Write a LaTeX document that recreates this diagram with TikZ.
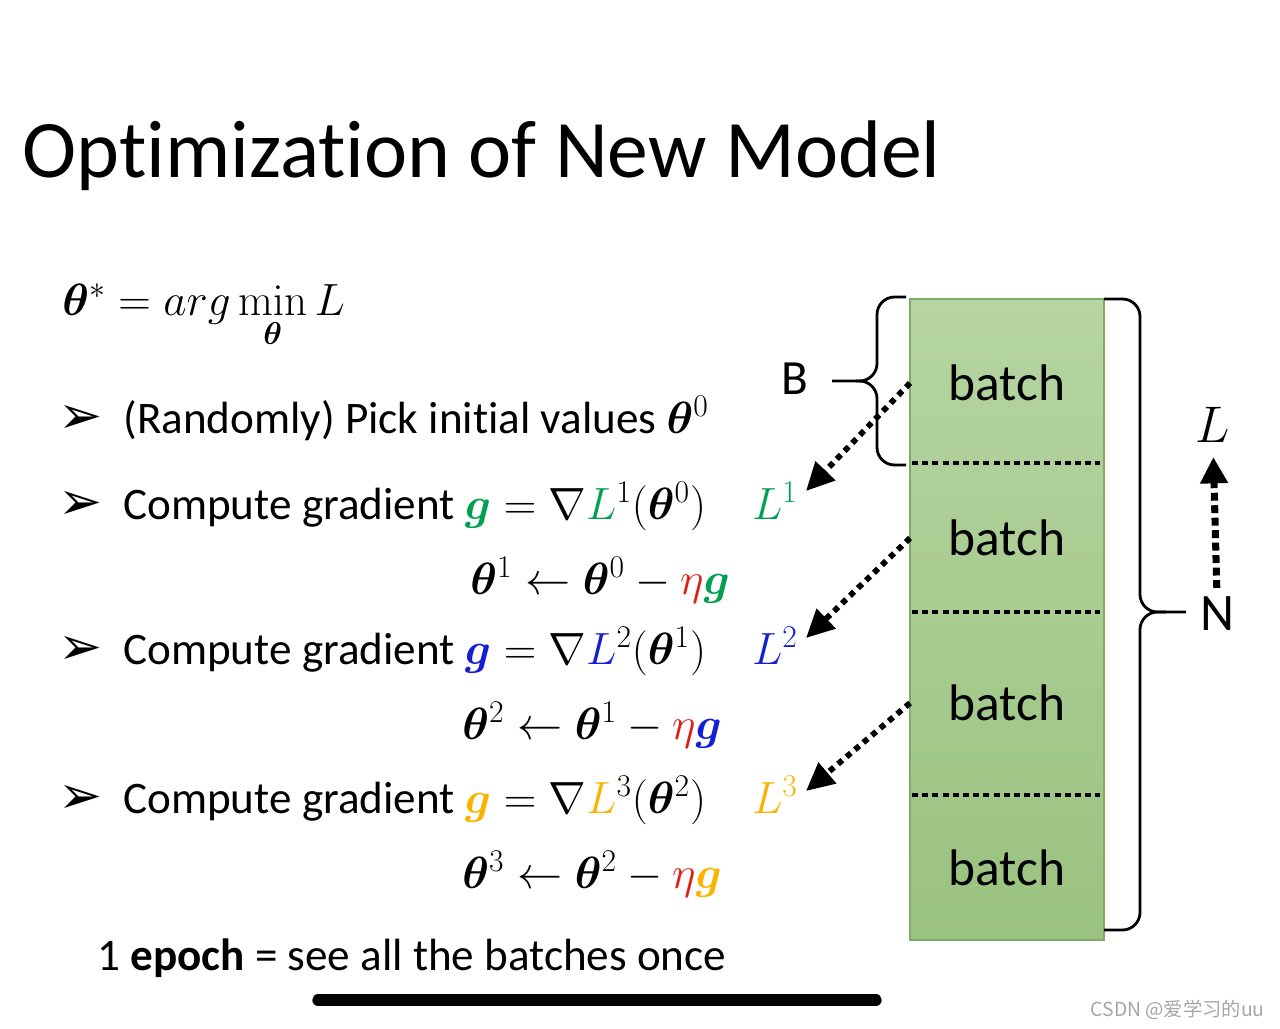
\RequirePackage{fix-cm}
\documentclass[tikz,border=0pt]{standalone}
\usepackage{amsmath,amssymb}
\usepackage{bm}
\usepackage[no-math]{fontspec}
\setmainfont{Carlito}[Ligatures={NoCommon,NoContextual,NoRare},RawFeature={-calt;-clig}]
\newfontfamily\dingfont{DejaVu Sans}
\newfontfamily\cjkfont{Noto Sans CJK SC}
\usepackage{tikz}
\usetikzlibrary{arrows.meta}

\definecolor{lossgreen}{RGB}{0,160,80}
\definecolor{lossblue}{RGB}{20,30,210}
\definecolor{lossgold}{RGB}{250,180,0}
\definecolor{etared}{RGB}{225,30,20}
\definecolor{batchtop}{RGB}{182,213,162}
\definecolor{batchbot}{RGB}{154,194,128}
\definecolor{batchedge}{RGB}{125,172,100}

\newcommand{\bth}{\bm{\theta}}
\newcommand{\bul}{\makebox[1.3cm][l]{\dingfont\fontsize{30}{30}\selectfont ➢}}
\newcommand{\nolig}{\kern0pt}

\begin{document}
\begin{tikzpicture}[x=0.02cm,y=-0.02cm,
  body/.style={anchor=base west,inner sep=0pt,font=\fontsize{25.7}{31}\selectfont},
  batchlabel/.style={inner sep=0pt,font=\fontsize{29.3}{34}\selectfont},
  sep/.style={line width=2pt,dash pattern=on 3.4pt off 2.4pt},
  feed/.style={line width=3.3pt,dash pattern=on 3.3pt off 3pt,-{Triangle[length=16pt,width=15pt]}},
  brace/.style={line width=1.6pt,rounded corners=10pt}]
  \useasboundingbox (0,0) rectangle (1280,1028);

  % title
  \node[anchor=base west,inner sep=0pt,font=\fontsize{46.5}{50}\selectfont] (title) at (22,177) {Opt\nolig imizat\nolig ion of New Model};

  % steps on the left
  \node[body] (objective) at (62,315) {$\bth^{*} = arg\min\limits_{\bth} L$};
  \node[body] (pick) at (58,433) {\bul(Randomly) Pick init\nolig ial values $\bth^{0}$};
  \node[body] (grad1) at (58,519) {\bul Compute gradient $\color{lossgreen}\bm{g}\color{black} = \nabla{\color{lossgreen}L}^{1}(\bth^{0})$};
  \node[body] (upd1) at (470,594) {$\bth^{1} \leftarrow \bth^{0} - {\color{etared}\eta}{\color{lossgreen}\bm{g}}$};
  \node[body] (grad2) at (58,664) {\bul Compute gradient $\color{lossblue}\bm{g}\color{black} = \nabla{\color{lossblue}L}^{2}(\bth^{1})$};
  \node[body] (upd2) at (462,739) {$\bth^{2} \leftarrow \bth^{1} - {\color{etared}\eta}{\color{lossblue}\bm{g}}$};
  \node[body] (grad3) at (58,813) {\bul Compute gradient $\color{lossgold}\bm{g}\color{black} = \nabla{\color{lossgold}L}^{3}(\bth^{2})$};
  \node[body] (upd3) at (462,888) {$\bth^{3} \leftarrow \bth^{2} - {\color{etared}\eta}{\color{lossgold}\bm{g}}$};
  \node[body] (epoch) at (97,970) {1 \textbf{epoch} = see all the batches once};

  % losses per batch
  \node[body,text=lossgreen] (loss1) at (752,519) {$L^{1}$};
  \node[body,text=lossblue] (loss2) at (752,664) {$L^{2}$};
  \node[body,text=lossgold] (loss3) at (752,813) {$L^{3}$};

  % training data column
  \shade[top color=batchtop,bottom color=batchbot,draw=batchedge,line width=0.6pt] (910,299) rectangle (1104,940);
  \coordinate (colwest) at (910,0);
  \foreach \y in {463,612,795}
    \draw[sep] (912,\y) -- (1100,\y);
  \node[batchlabel] (batch1) at (1007,383) {batch};
  \node[batchlabel] (batch2) at (1007,538) {batch};
  \node[batchlabel] (batch3) at (1007,703) {batch};
  \node[batchlabel] (batch4) at (1007,868) {batch};

  \coordinate (tip1) at (806,491);
  \coordinate (tip2) at (806,638);
  \coordinate (tip3) at (806,791);
  \draw[feed] (colwest |- batch1) -- (tip1);
  \draw[feed] (colwest |- batch2) -- (tip2);
  \draw[feed] (colwest |- batch3) -- (tip3);

  % braces
  \node[batchlabel,font=\fontsize{28}{32}\selectfont] (labelB) at (795,379) {B};
  \draw[brace] (906,297) -- (877,297) -- (877,381) -- (832,381);
  \draw[brace] (906,465) -- (877,465) -- (877,381) -- (856,381);
  \node[batchlabel,font=\fontsize{30}{34}\selectfont] (labelN) at (1217,614) {N};
  \draw[brace] (1104,299) -- (1140,299) -- (1140,612) -- (1186,612);
  \draw[brace] (1104,930) -- (1140,930) -- (1140,612) -- (1166,612);

  \node[batchlabel] (labelL) at (1213,425) {$L$};
  \draw[line width=4pt,dash pattern=on 4.5pt off 2.6pt,-{Triangle[length=15pt,width=15pt]},shorten <=5pt,shorten >=8pt] (labelN.north) -- (labelL.south);

  % screen bar and mark
  \draw[line width=6.5pt,line cap=round] (318,1000) -- (876,1000);
  \node[anchor=base east,inner sep=0pt,text=gray!70,font=\cjkfont\fontsize{11}{12}\selectfont] (mark) at (1265,1016) {CSDN @爱学习的uu};
\end{tikzpicture}
\end{document}
